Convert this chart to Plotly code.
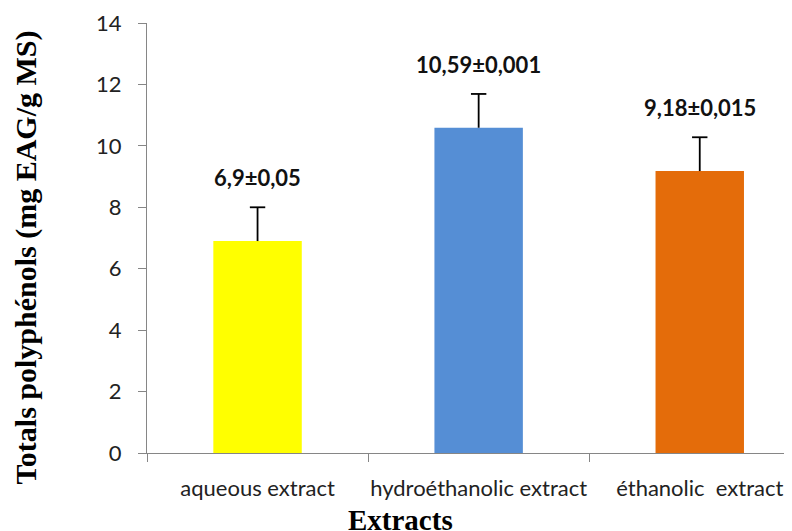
import plotly.graph_objects as go

categories = ["aqueous extract", "hydroéthanolic extract", "éthanolic\u00a0 extract"]
values = [6.9, 10.59, 9.18]
errors_plus = [1.1, 1.1, 1.1]
value_labels = ["6,9±0,05", "10,59±0,001", "9,18±0,015"]
colors = ["#FFFF00", "#558ED5", "#E46C0A"]
y_ticks = [0, 2, 4, 6, 8, 10, 12, 14]

# page body has an 8px margin; figure coordinates are offset accordingly
L, T, B = 139.3, 14.7, 531 - 444.7
W = 792
PLOT_H = 430.0
PLOT_W = W - L
CAT_W = 221.0

fig = go.Figure()
fig.add_trace(go.Bar(
    x=categories, y=values, width=0.4,
    marker=dict(color=colors, line=dict(width=0)),
    error_y=dict(type="data", array=errors_plus, arrayminus=[0, 0, 0],
                 symmetric=False, color="#000000", thickness=1.8, width=0),
    showlegend=False, hoverinfo="skip",
))
fig.add_trace(go.Scatter(
    x=categories, y=[v + e for v, e in zip(values, errors_plus)], mode="markers",
    marker=dict(symbol="line-ew-open", size=11, color="#000000",
                line=dict(color="#000000", width=1.8)),
    showlegend=False, hoverinfo="skip",
))

for c, v, e, t in zip(categories, values, errors_plus, value_labels):
    fig.add_annotation(x=c, y=v + e, text="<b>" + t + "</b>", showarrow=False,
                       yanchor="bottom", yshift=14,
                       font=dict(family="Lato, sans-serif", size=22, color="#111111"))

fig.add_annotation(xref="paper", yref="paper", x=(400.8 - 147.3) / PLOT_W, y=(452.7 - 502) / PLOT_H,
                   text="<b>Extracts</b>", showarrow=False, xanchor="center", yanchor="top",
                   font=dict(family="Liberation Serif, Times New Roman, serif", size=29, color="#000000"))
fig.add_annotation(xref="paper", yref="paper", x=(26 - 147.3) / PLOT_W, y=(452.7 - 257.5) / PLOT_H,
                   text="<b>Totals polyphénols (mg EAG/g MS)</b>", showarrow=False, textangle=-90,
                   xanchor="center", yanchor="middle",
                   font=dict(family="Liberation Serif, Times New Roman, serif", size=30, color="#000000"))

fig.update_layout(
    width=W, height=531,
    margin=dict(l=L, r=0, t=T, b=B, pad=0, autoexpand=False),
    plot_bgcolor="white", paper_bgcolor="white",
)
fig.update_xaxes(
    range=[-0.5, -0.5 + PLOT_W / CAT_W], showline=True, linecolor="#868686", linewidth=1,
    ticks="outside", tickson="boundaries", ticklen=8, tickcolor="#868686",
    showgrid=False, ticklabelstandoff=16, tickangle=0, automargin=False,
    tickfont=dict(family="Lato, sans-serif", size=22, color="#222222"),
)
fig.update_yaxes(
    range=[0, 14], tickvals=y_ticks, showline=True, linecolor="#868686", linewidth=1,
    ticks="outside", ticklen=8, tickcolor="#868686", showgrid=False, zeroline=False,
    ticklabelstandoff=12, automargin=False,
    tickfont=dict(family="Lato, sans-serif", size=22, color="#222222"),
)

fig.write_html("out.html")
